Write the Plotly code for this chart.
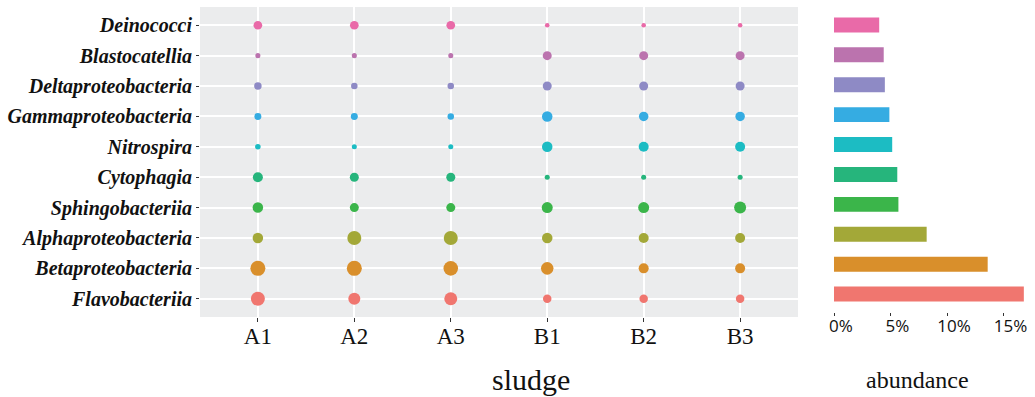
import numpy as np
import plotly.graph_objects as go

samples = ["A1", "A2", "A3", "B1", "B2", "B3"]
classes = ["Flavobacteriia", "Betaproteobacteria", "Alphaproteobacteria", "Sphingobacteriia",
           "Cytophagia", "Nitrospira", "Gammaproteobacteria", "Deltaproteobacteria",
           "Blastocatellia", "Deinococci"]
colors = ["#F0766F", "#D98F2B", "#A3A838", "#3BB54A", "#26B57C",
          "#1CBCC3", "#35ACE2", "#8E8AC5", "#BB73AE", "#E96AA8"]

# per-sample relative abundance (%), rows follow `classes`
flavo = [21.8, 16.0, 18.8, 8.0, 8.0, 8.0]
beta = [25.0, 25.0, 23.4, 17.4, 11.1, 11.1]
alpha = [12.3, 21.8, 21.8, 12.3, 11.1, 11.1]
sphingo = [12.3, 9.0, 9.0, 13.4, 13.4, 16.0]
cyto = [11.1, 9.0, 9.0, 2.8, 2.8, 2.8]
nitro = [3.4, 2.8, 2.8, 12.3, 11.1, 11.1]
gamma = [5.4, 5.4, 4.7, 12.3, 10.0, 10.0]
delta = [6.3, 4.7, 4.7, 9.0, 9.0, 9.0]
blasto = [2.8, 2.8, 2.8, 9.0, 9.0, 9.0]
deino = [8.4, 8.4, 8.4, 2.3, 2.3, 2.3]
sample_values = [flavo, beta, alpha, sphingo, cyto, nitro, gamma, delta, blasto, deino]

# overall abundance (%)
abundance = [16.8, 13.6, 8.2, 5.7, 5.6, 5.15, 4.9, 4.5, 4.4, 4.0]

W, H = 1035, 397
fig = go.Figure()

for name, vals, col in zip(classes, sample_values, colors):
    fig.add_trace(go.Scatter(
        x=samples, y=[name] * len(samples), mode="markers",
        marker=dict(size=3.0 * np.sqrt(np.array(vals)), sizemode="diameter",
                    color=col, line=dict(width=0), opacity=1),
        xaxis="x", yaxis="y", showlegend=False, hoverinfo="skip"))

fig.add_trace(go.Bar(
    x=abundance, y=classes, orientation="h", marker=dict(color=colors, line=dict(width=0)),
    width=0.5, xaxis="x2", yaxis="y2", showlegend=False))

ydom = [80 / H, 390 / H]
ydom2 = [85 / H, 390 / H]
serif = "Liberation Serif"
x0px, pxper = 834.0, 11.3

fig.update_layout(
    width=W, height=H, margin=dict(l=0, r=0, t=0, b=0),
    paper_bgcolor="white", plot_bgcolor="rgba(0,0,0,0)",
    xaxis=dict(domain=[200 / W, 798 / W], type="category", categoryorder="array",
               categoryarray=samples, range=[-0.6, 5.6], showgrid=True, gridcolor="white",
               gridwidth=2, zeroline=False, showline=False, ticks="outside", ticklen=4,
               tickcolor="#333333", tickwidth=1, ticklabelstandoff=-6,
               tickfont=dict(family=serif, size=23, color="#111111"), anchor="y"),
    yaxis=dict(domain=ydom, type="category", categoryorder="array", categoryarray=classes,
               range=[-0.6, 9.6], showgrid=True, gridcolor="white", gridwidth=2,
               zeroline=False, showline=False, ticks="outside", ticklen=3,
               tickcolor="#333333", tickwidth=1, anchor="x",
               tickfont=dict(family=serif, size=20, color="#111111", style="italic",
                             weight="bold")),
    xaxis2=dict(domain=[805 / W, 1.0],
                range=[-(x0px - 805) / pxper, (W - x0px) / pxper],
                showgrid=False, zeroline=False,
                showline=False, ticks="outside", ticklen=3, tickcolor="#333333",
                tickvals=[0, 5, 10, 15], ticktext=["0%", "5%", "10%", "15%"],
                ticklabelshift=7, ticklabelstandoff=-4,
                tickfont=dict(family="Open Sans", size=17, color="#111111"), anchor="y2"),
    yaxis2=dict(domain=ydom2, type="category", categoryorder="array", categoryarray=classes,
                range=[-0.6, 9.6], showgrid=False, zeroline=False, showline=False,
                showticklabels=False, ticks="", anchor="x2"),
    shapes=[dict(type="rect", xref="x domain", yref="y domain", x0=0, x1=1, y0=0, y1=1,
                 fillcolor="#EBECED", line=dict(width=0), layer="below")],
    annotations=[
        dict(text="sludge", x=531 / W, y=1 - 379 / H, xref="paper", yref="paper",
             showarrow=False, font=dict(family=serif, size=30, color="#111111"),
             xanchor="center", yanchor="middle", borderpad=0),
        dict(text="abundance", x=917 / W, y=1 - 380 / H, xref="paper", yref="paper",
             showarrow=False, font=dict(family=serif, size=24, color="#111111"),
             xanchor="center", yanchor="middle", borderpad=0),
    ],
)

fig.write_html("out.html")
